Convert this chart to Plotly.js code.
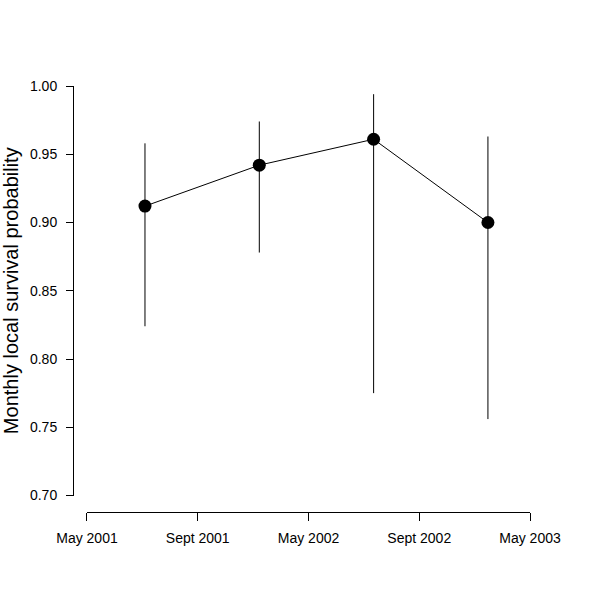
<!DOCTYPE html>
<html>
<head>
<meta charset="utf-8">
<script src="https://cdn.plot.ly/plotly-3.0.1.min.js"></script>
<style>
  body { margin: 0; background: #fff; }
  #plot { width: 600px; height: 600px; }
</style>
</head>
<body>
<div id="plot"></div>
<script>
// survival estimates per period, with upper / lower confidence limits
var periodPos = [1, 2, 3, 4];
var survival = [0.912, 0.942, 0.961, 0.900];
var upperCI = [0.958, 0.974, 0.994, 0.963];
var lowerCI = [0.824, 0.878, 0.775, 0.756];

var tickPos = [0.4926, 1.4615, 2.4304, 3.3993, 4.368];
var tickLabels = ["May 2001", "Sept 2001", "May 2002", "Sept 2002", "May 2003"];

var errPlus = [];
var errMinus = [];
for (var i = 0; i < survival.length; i++) {
  errPlus.push(upperCI[i] - survival[i]);
  errMinus.push(survival[i] - lowerCI[i]);
}

var trace = {
  x: periodPos,
  y: survival,
  type: "scatter",
  mode: "lines+markers",
  line: { color: "black", width: 1 },
  marker: { color: "black", size: 13 },
  error_y: {
    type: "data",
    symmetric: false,
    array: errPlus,
    arrayminus: errMinus,
    color: "black",
    thickness: 1,
    width: 0
  },
  cliponaxis: false,
  hoverinfo: "none"
};

var layout = {
  width: 600,
  height: 600,
  margin: { l: 73, r: 70, t: 86, b: 88 },
  paper_bgcolor: "white",
  plot_bgcolor: "white",
  showlegend: false,
  font: { family: "Liberation Sans, Arial, sans-serif", color: "black", size: 14 },
  xaxis: {
    domain: [0.0306, 1],
    anchor: "free",
    position: 0,
    range: [0.4926, 4.368],
    tickmode: "array",
    tickvals: tickPos,
    ticktext: tickLabels,
    showgrid: false,
    zeroline: false,
    showline: true,
    linecolor: "black",
    linewidth: 1,
    ticks: "outside",
    ticklen: 8,
    tickcolor: "black",
    ticklabelstandoff: 5,
    tickfont: { size: 14 }
  },
  yaxis: {
    domain: [0.0387, 1],
    anchor: "free",
    position: 0,
    range: [0.70, 1.00],
    tickmode: "array",
    tickvals: [0.70, 0.75, 0.80, 0.85, 0.90, 0.95, 1.00],
    ticktext: ["0.70", "0.75", "0.80", "0.85", "0.90", "0.95", "1.00"],
    showgrid: false,
    zeroline: false,
    showline: true,
    linecolor: "black",
    linewidth: 1,
    ticks: "outside",
    ticklen: 7,
    tickcolor: "black",
    ticklabelstandoff: 6,
    tickfont: { size: 14 },
    title: { text: "Monthly local survival probability", font: { size: 20 }, standoff: 10 }
  }
};

Plotly.newPlot("plot", [trace], layout, { staticPlot: true });
</script>
</body>
</html>
